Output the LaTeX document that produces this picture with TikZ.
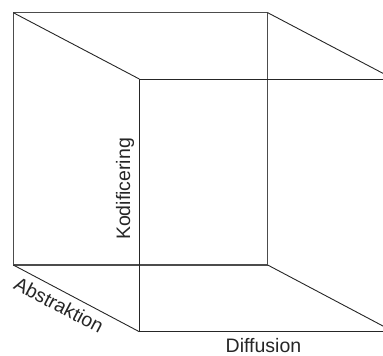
\documentclass[tikz,border=0pt]{standalone}
\usepackage{fontspec}
\setmainfont{Liberation Sans}
\begin{document}
\begin{tikzpicture}[x=1pt,y=-1pt,
  backedge/.style={draw=black!70,line width=1.3pt},
  edge/.style={draw=black!85,line width=0.9pt},
  lbl/.style={text=black!85,font=\fontsize{19.5}{22}\selectfont,inner sep=0pt}]
\useasboundingbox (0,0) rectangle (383,356);
\clip (0,0) rectangle (383,356);
% back square
\coordinate (btl) at (13.3,12.7);
\coordinate (btr) at (267.7,12.7);
\coordinate (bbl) at (13.3,265);
\coordinate (bbr) at (267.7,265);
% front square
\coordinate (ftl) at (139.3,79);
\coordinate (ftr) at (393.7,79);
\coordinate (fbl) at (139.3,331.7);
\coordinate (fbr) at (393.7,331.7);
\draw[backedge] (btl) -- (btr) -- (bbr) -- (bbl) -- cycle;
\draw[edge] (ftl) -- (ftr);
\draw[edge] (ftl) -- (fbl) -- (fbr);
\draw[edge] (btl) -- (ftl);
\draw[edge] (btr) -- (ftr);
\draw[edge] (bbl) -- (fbl);
\draw[edge] (bbr) -- (fbr);
% labels
\node[lbl,rotate=90] (kod) at (125,189) {Kodificering};
\node[lbl] (dif) at (263.5,346) {Diffusion};
\node[lbl,rotate=-27.76] (abs) at (59,305) {Abstraktion};
\end{tikzpicture}
\end{document}
